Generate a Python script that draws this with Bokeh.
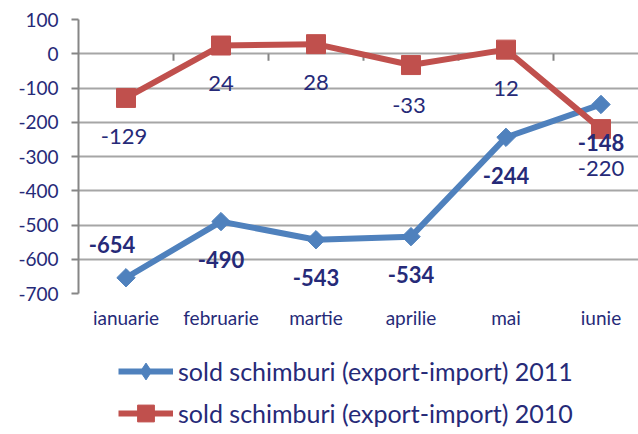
import math
from bokeh.plotting import figure
from bokeh.layouts import column
from bokeh.models import Range1d, FixedTicker, Legend, LegendItem, ColumnDataSource
from bokeh.core.properties import value
from bokeh.embed import file_html
from bokeh.resources import INLINE

# ---- data ----
months = ["ianuarie", "februarie", "martie", "aprilie", "mai", "iunie"]
sold_2011 = [-654, -490, -543, -534, -244, -148]
sold_2010 = [-129, 24, 28, -33, 12, -220]
y_ticks = [100, 0, -100, -200, -300, -400, -500, -600, -700]
label_2011 = "sold schimburi (export-import) 2011"
label_2010 = "sold schimburi (export-import) 2010"

# label placement (screen px offsets)
dx_2011 = [-14, 0, 0, 0, 0, 0]
dy_2011 = [-33, 38, 38, 38, 38, 38]
dx_2010 = [-2, 0, 0, -2, 0, 0]
dy_2010 = [39, 38, 38, 40, 39, 39]

FONT = "Lato"
TEXT = "#262A78"
BLUE = "#4F81BD"
RED = "#C0504D"
GRID = "#A6A6A6"
AXIS = "#868686"

xs = list(range(len(months)))
boundaries = [i + 0.5 for i in range(len(months))]

p = figure(width=638, height=335, output_backend="svg", toolbar_location=None,
           x_range=Range1d(-0.5, -0.5 + 560 / 95), y_range=Range1d(-700, 100),
           min_border_left=78, min_border_right=0, min_border_top=19,
           min_border_bottom=42)
p.outline_line_color = None
p.background_fill_color = "white"
p.border_fill_color = "white"

# y axis
p.yaxis.ticker = FixedTicker(ticks=y_ticks)
p.yaxis.major_label_overrides = {t: str(t) for t in y_ticks}
p.yaxis.major_label_text_font = FONT
p.yaxis.major_label_text_font_size = "19px"
p.yaxis.major_label_text_color = TEXT
p.yaxis.axis_line_color = AXIS
p.yaxis.axis_line_width = 2
p.yaxis.major_tick_line_color = AXIS
p.yaxis.major_tick_line_width = 2
p.yaxis.major_tick_out = 7
p.yaxis.major_tick_in = 0
p.yaxis.minor_tick_line_color = None
p.yaxis.major_label_standoff = 13
p.ygrid.ticker = FixedTicker(ticks=y_ticks)
p.ygrid.grid_line_color = GRID
p.ygrid.grid_line_width = 2
p.xgrid.grid_line_color = None

# x axis (labels at bottom)
p.xaxis.ticker = FixedTicker(ticks=xs)
p.xaxis.major_label_overrides = {i: m for i, m in enumerate(months)}
p.xaxis.major_label_text_font = FONT
p.xaxis.major_label_text_font_size = "19px"
p.xaxis.major_label_text_color = TEXT
p.xaxis.axis_line_color = None
p.xaxis.major_tick_line_color = None
p.xaxis.minor_tick_line_color = None
p.xaxis.major_label_standoff = 6

# category tick marks on the zero line (between categories)
p.ray(x=boundaries, y=[0] * len(boundaries), length=7, length_units="screen",
      angle=-math.pi / 2, line_color=AXIS, line_width=2)

# series
p.line(xs, sold_2011, line_color=BLUE, line_width=6)
p.scatter(xs, sold_2011, marker="square", angle=math.pi / 4, size=13,
          fill_color=BLUE, line_color=BLUE)
p.line(xs, sold_2010, line_color=RED, line_width=6)
p.scatter(xs, sold_2010, marker="square", size=19, fill_color=RED, line_color=RED)

src11 = ColumnDataSource(dict(x=xs, y=sold_2011, t=[str(v) for v in sold_2011],
                              dx=dx_2011, dy=dy_2011))
src10 = ColumnDataSource(dict(x=xs, y=sold_2010, t=[str(v) for v in sold_2010],
                              dx=dx_2010, dy=dy_2010))
p.text("x", "y", text="t", x_offset="dx", y_offset="dy", source=src10,
       text_font=value(FONT), text_font_size="22px", text_color=TEXT,
       text_align="center", text_baseline="middle")
p.text("x", "y", text="t", x_offset="dx", y_offset="dy", source=src11,
       text_font=value(FONT), text_font_size="22px", text_font_style="bold",
       text_color=TEXT, text_align="center", text_baseline="middle")

# ---- legend strip below the chart (key glyphs only, no visible data) ----
pl = figure(width=638, height=99, output_backend="svg", toolbar_location=None,
            x_axis_location=None, y_axis_location=None,
            x_range=Range1d(0, 1), y_range=Range1d(0, 1),
            min_border=0)
pl.outline_line_color = None
pl.grid.grid_line_color = None
nan = [math.nan]
k_l11 = pl.line(x=nan, y=nan, line_color=BLUE, line_width=6)
k_s11 = pl.scatter(x=nan, y=nan, marker="diamond", fill_color=BLUE, line_color=BLUE)
k_l10 = pl.line(x=nan, y=nan, line_color=RED, line_width=6)
k_s10 = pl.scatter(x=nan, y=nan, marker="square", fill_color=RED, line_color=RED)

legend = Legend(items=[LegendItem(label=label_2011, renderers=[k_l11, k_s11]),
                       LegendItem(label=label_2010, renderers=[k_l10, k_s10])],
                location=(40, 0), orientation="vertical",
                glyph_width=55, glyph_height=42, label_height=25,
                spacing=-3, label_standoff=5, padding=0, margin=0,
                label_text_font=FONT, label_text_font_size="25px",
                label_text_color=TEXT,
                border_line_alpha=0, background_fill_alpha=0)
pl.add_layout(legend, "center")

layout = column(p, pl, spacing=0)
open("out.html", "w").write(file_html(layout, INLINE))
